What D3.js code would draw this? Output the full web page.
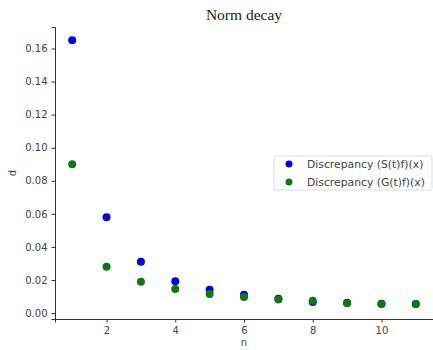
<!DOCTYPE html>
<html>
<head>
<meta charset="utf-8">
<script src="https://cdn.jsdelivr.net/npm/d3@7"></script>
<style>
  body { margin: 0; background: #fff; }
  svg { display: block; }
</style>
</head>
<body>
<div id="chart"></div>
<script>
const nValues = [1, 2, 3, 4, 5, 6, 7, 8, 9, 10, 11];
const discS = [0.165, 0.058, 0.031, 0.0193, 0.0141, 0.011, 0.0086, 0.0067, 0.0062, 0.0056, 0.0055];
const discG = [0.090, 0.028, 0.019, 0.0145, 0.0115, 0.0097, 0.0082, 0.0074, 0.006, 0.0054, 0.0054];
const seriesNames = ['Discrepancy (S(t)f)(x)', 'Discrepancy (G(t)f)(x)'];
const seriesColors = ['#0000ee', '#107810'];
const xTicks = [2, 4, 6, 8, 10];
const yTicks = [0, 0.02, 0.04, 0.06, 0.08, 0.10, 0.12, 0.14, 0.16];

const width = 433, height = 350;
const margin = { top: 27, right: 0, bottom: 31, left: 55 };
const innerW = width - margin.left - margin.right;
const innerH = height - margin.top - margin.bottom;

const svg = d3.select('#chart').append('svg')
  .attr('width', width)
  .attr('height', height);

const g = svg.append('g')
  .attr('transform', `translate(${margin.left},${margin.top})`);

const x = d3.scaleLinear().domain([0.5, 11.5]).range([0, innerW]);
const y = d3.scaleLinear().domain([-0.0036, 0.173]).range([innerH, 0]);

// axes
const xAxis = g.append('g')
  .attr('transform', `translate(0,${innerH})`)
  .call(d3.axisBottom(x).tickValues(xTicks).tickFormat(d3.format('d')).tickSize(3.5).tickPadding(4));
const yAxis = g.append('g')
  .call(d3.axisLeft(y).tickValues(yTicks).tickFormat(d3.format('.2f')).tickSize(3.5).tickPadding(4));

[xAxis, yAxis].forEach(a => {
  a.select('.domain').attr('stroke', '#333').attr('stroke-width', 1);
  a.selectAll('.tick line').attr('stroke', '#333');
  a.selectAll('text')
    .attr('fill', '#444')
    .style('font-family', 'DejaVu Sans, sans-serif')
    .style('font-size', '10px');
});

// points
const series = [discS, discG];
series.forEach((vals, i) => {
  g.selectAll('.pt' + i)
    .data(vals)
    .enter()
    .append('circle')
    .attr('cx', (d, j) => x(nValues[j]))
    .attr('cy', d => y(d))
    .attr('r', 4)
    .attr('fill', seriesColors[i]);
});

// title and labels
svg.append('text')
  .attr('x', margin.left + innerW / 2)
  .attr('y', 20)
  .attr('text-anchor', 'middle')
  .style('font-family', 'Liberation Serif, serif')
  .style('font-size', '15.5px')
  .attr('fill', '#222')
  .text('Norm decay');

svg.append('text')
  .attr('x', margin.left + innerW / 2)
  .attr('y', 346)
  .attr('text-anchor', 'middle')
  .style('font-family', 'DejaVu Sans, sans-serif')
  .style('font-size', '10px')
  .attr('fill', '#444')
  .text('n');

svg.append('text')
  .attr('transform', `translate(16,${margin.top + innerH / 2}) rotate(-90)`)
  .attr('text-anchor', 'middle')
  .style('font-family', 'DejaVu Sans, sans-serif')
  .style('font-size', '10px')
  .attr('fill', '#444')
  .text('d');

// legend
const legend = svg.append('g').attr('transform', 'translate(274,156)');
legend.append('rect')
  .attr('width', 158)
  .attr('height', 34)
  .attr('rx', 2)
  .attr('fill', '#fff')
  .attr('stroke', '#ddd');
seriesNames.forEach((name, i) => {
  const row = legend.append('g').attr('transform', `translate(0,${8 + i * 18})`);
  row.append('circle').attr('cx', 15).attr('cy', 0).attr('r', 3.5).attr('fill', seriesColors[i]);
  row.append('text')
    .attr('x', 33)
    .attr('y', 3.8)
    .style('font-family', 'DejaVu Sans, sans-serif')
    .style('font-size', '10.8px')
    .attr('fill', '#444')
    .text(name);
});
</script>
</body>
</html>
